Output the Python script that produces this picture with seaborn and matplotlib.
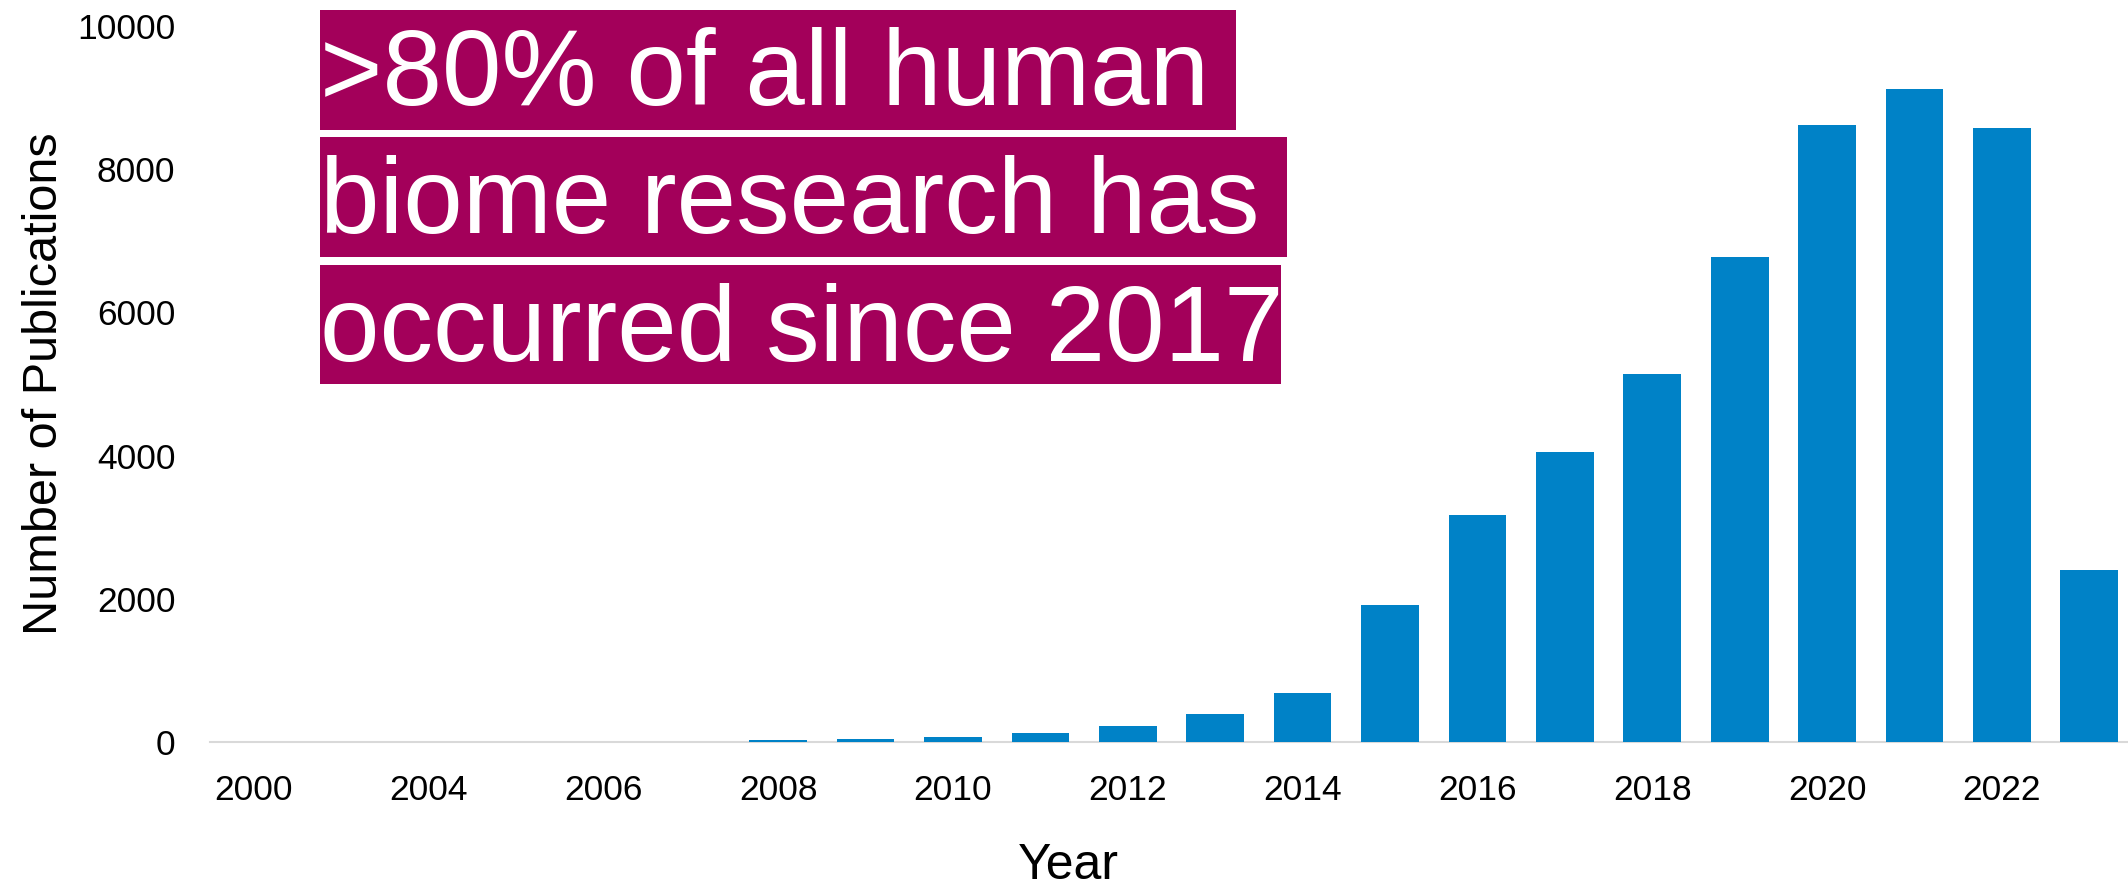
import matplotlib
matplotlib.use("Agg")
import matplotlib.pyplot as plt
import pandas as pd
import seaborn as sns
from matplotlib.patches import Rectangle

# ---- data ----
years = ["2000", "2002", "2004", "2005", "2006", "2007", "2008", "2009", "2010",
         "2011", "2012", "2013", "2014", "2015", "2016", "2017", "2018", "2019",
         "2020", "2021", "2022", "2023"]
publications = [1, 1, 2, 2, 3, 5, 25, 40, 75, 125, 230, 385, 690, 1920, 3165,
                4045, 5145, 6780, 8615, 9115, 8570, 2400]
tick_labels = ["2000", "", "2004", "", "2006", "", "2008", "", "2010", "", "2012",
               "", "2014", "", "2016", "", "2018", "", "2020", "", "2022", ""]
y_ticks = [0, 2000, 4000, 6000, 8000, 10000]
annotation_lines = [">80% of all human ", "biome research has ", "occurred since 2017"]

BAR_COLOR = "#0082C7"
BOX_COLOR = "#A3005A"

sns.set_theme(style="white")
plt.rcParams['font.family'] = ['Liberation Sans', 'DejaVu Sans']

W, H = 2128, 890
fig = plt.figure(figsize=(W / 100, H / 100), dpi=100)

# axes placement in pixels
ax_l, ax_r, ax_b, ax_t = 210, 2133, 742, 26
ax = fig.add_axes([ax_l / W, 1 - ax_b / H, (ax_r - ax_l) / W, (ax_b - ax_t) / H])

df = pd.DataFrame({"Year": years, "Publications": publications})
sns.barplot(data=df, x="Year", y="Publications", color=BAR_COLOR, saturation=1,
            width=0.66, linewidth=0, ax=ax, zorder=3)

ax.set_xlim(-0.5, len(years) - 0.5)
ax.set_ylim(0, 10000)
ax.set_yticks(y_ticks)
ax.set_yticklabels([str(v) for v in y_ticks])
ax.set_xticks(range(len(years)))
ax.set_xticklabels(tick_labels)
ax.tick_params(axis='both', length=0, labelsize=25.5, colors='black')
ax.tick_params(axis='x', pad=23)
ax.tick_params(axis='y', pad=25)
for s in ['top', 'right', 'left']:
    ax.spines[s].set_visible(False)
ax.spines['bottom'].set_color('#D9D9D9')
ax.spines['bottom'].set_linewidth(1.5)
ax.spines['bottom'].set_zorder(1)
ax.grid(False)

ax.set_xlabel("Year", fontsize=36, color='black')
ax.xaxis.set_label_coords((1068 - ax_l) / (ax_r - ax_l), -(843 - ax_b) / (ax_b - ax_t))
ax.set_ylabel("Number of Publications", fontsize=35, color='black')
ax.yaxis.set_label_coords((67 - ax_l) / (ax_r - ax_l), 0.5)

# annotation boxes (pixel geometry: left, top, right, bottom) and baselines
boxes = [(320, 9.5, 1236, 129.7), (320, 136.7, 1287, 256.7), (320, 265, 1281, 384.3)]
baselines = [105.5, 232.7, 361]
for (l, t, r, b), base, line in zip(boxes, baselines, annotation_lines):
    fig.add_artist(Rectangle((l / W, 1 - b / H), (r - l) / W, (b - t) / H,
                             transform=fig.transFigure, facecolor=BOX_COLOR,
                             edgecolor='none', zorder=5))
    fig.text(l / W, 1 - base / H, line, fontsize=77, color='white',
             ha='left', va='baseline', zorder=6)

fig.savefig("out.png", dpi=100)
